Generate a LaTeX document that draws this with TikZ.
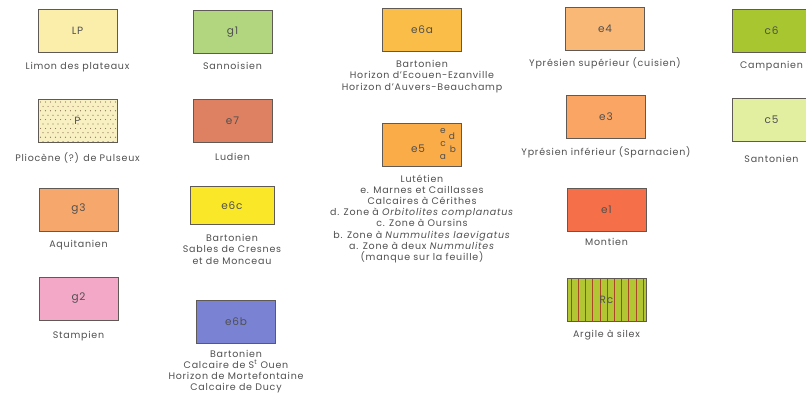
\documentclass[tikz,border=0pt]{standalone}
\usepackage{fontspec}
\setmainfont[LetterSpace=8]{Poppins}
\usetikzlibrary{positioning,calc}

\definecolor{inkgray}{RGB}{80,80,80}
\definecolor{boxgray}{RGB}{95,90,85}
\definecolor{lpcol}{RGB}{250,238,170}
\definecolor{plcol}{RGB}{248,240,195}
\definecolor{pldot}{RGB}{135,115,80}
\definecolor{g3col}{RGB}{246,168,108}
\definecolor{g2col}{RGB}{244,168,200}
\definecolor{g1col}{RGB}{178,214,128}
\definecolor{e7col}{RGB}{222,128,98}
\definecolor{e6ccol}{RGB}{250,232,40}
\definecolor{e6bcol}{RGB}{122,130,212}
\definecolor{e6acol}{RGB}{250,190,72}
\definecolor{e5col}{RGB}{250,172,72}
\definecolor{e4col}{RGB}{250,184,118}
\definecolor{e3col}{RGB}{250,165,100}
\definecolor{e1col}{RGB}{245,112,72}
\definecolor{rccol}{RGB}{178,198,52}
\definecolor{rcline}{RGB}{170,70,40}
\definecolor{c6col}{RGB}{168,198,48}
\definecolor{c5col}{RGB}{226,238,160}

\tikzset{
    swatch/.style={draw=boxgray, line width=0.8pt, minimum width=79pt, minimum height=43pt,
        inner sep=0pt, text=inkgray, font=\fontsize{10.5}{10.5}\selectfont},
    legend/.style={text=inkgray, align=center, inner sep=1pt, font=\fontsize{9.5}{11.5}\selectfont},
    mark letter/.style={text=inkgray, inner sep=0pt, font=\fontsize{9}{9}\selectfont}
}

\begin{document}
\begin{tikzpicture}[x=1pt,y=-1pt]
    \useasboundingbox[fill=white] (0,0) rectangle (806,396);

    % First column
    \node[swatch, fill=lpcol] (lp) at (77.5,30.5) {LP};
    \node[legend, below=9pt of lp] (lp-txt) {Limon des plateaux};

    \node[swatch, fill=plcol, path picture={
        \foreach \j in {0,...,9} {
            \foreach \i in {0,...,15} {
                \fill[pldot] ($(path picture bounding box.north west)+({2.5+5*\i+2.5*mod(\j,2)},{3+4.4*\j})$) circle (0.6pt);
            }
        }}] (pl) at (77.5,120.5) {P};
    \node[legend, below=9pt of pl] (pl-txt) {Pliocène (?) de Pulseux};

    \node[swatch, fill=g3col] (g3) at (78.5,209.5) {g3};
    \node[legend, below=8pt of g3] (g3-txt) {Aquitanien};

    \node[swatch, fill=g2col] (g2) at (78.5,298.5) {g2};
    \node[legend, below=10pt of g2] (g2-txt) {Stampien};

    % Second column
    \node[swatch, fill=g1col] (g1) at (232.5,32) {g1};
    \node[legend, below=7pt of g1] (g1-txt) {Sannoisien};

    \node[swatch, fill=e7col] (e7) at (232.5,121) {e7};
    \node[legend, below=9pt of e7] (e7-txt) {Ludien};

    \node[swatch, fill=e6ccol, minimum width=84pt, minimum height=38pt] (e6c) at (232,205.5) {e6c};
    \node[legend, below=8pt of e6c] (e6c-txt) {Bartonien\\Sables de Cresnes\\et de Monceau};

    \node[swatch, fill=e6bcol] (e6b) at (236,322) {e6b};
    \node[legend, below=5pt of e6b, font=\fontsize{9.5}{11}\selectfont] (e6b-txt) {Bartonien\\Calcaire de S\textsuperscript{t} Ouen\\Horizon de Mortefontaine\\Calcaire de Ducy};

    % Third column
    \node[swatch, fill=e6acol] (e6a) at (422,30) {e6a};
    \node[legend, below=7pt of e6a] (e6a-txt) {Bartonien\\Horizon d'Ecouen-Ezanville\\Horizon d'Auvers-Beauchamp};

    \node[swatch, fill=e5col] (e5) at (422,145) {};
    \node[mark letter, font=\fontsize{10.5}{10.5}\selectfont] (e5-sym) at (418,149) {e5};
    \node[mark letter] (e5-e) at (443,131) {e};
    \node[mark letter] (e5-d) at (452,136) {d};
    \node[mark letter] (e5-c) at (443,144) {c};
    \node[mark letter] (e5-b) at (453,149) {b};
    \node[mark letter] (e5-a) at (443,157) {a};
    \node[legend, below=7pt of e5, font=\fontsize{9.5}{11.1}\selectfont] (e5-txt) {Lutétien\\e. Marnes et Caillasses\\Calcaires à Cérithes\\
        d. Zone à \textit{Orbitolites complanatus}\\c. Zone à Oursins\\
        b. Zone à \textit{Nummulites laevigatus}\\a. Zone à deux \textit{Nummulites}\\(manque sur la feuille)};

    % Fourth column
    \node[swatch, fill=e4col] (e4) at (605,28.5) {e4};
    \node[legend, below=6pt of e4] (e4-txt) {Yprésien supérieur (cuisien)};

    \node[swatch, fill=e3col] (e3) at (606,117) {e3};
    \node[legend, below=7pt of e3] (e3-txt) {Yprésien inférieur (Sparnacien)};

    \node[swatch, fill=e1col] (e1) at (606.5,209.5) {e1};
    \node[legend, below=6pt of e1] (e1-txt) {Montien};

    \node[swatch, fill=rccol, path picture={
        \foreach \i in {0,...,10} {
            \draw[rcline, line width=0.6pt] ($(path picture bounding box.north west)+({4+7.2*\i},0)$) -- ++(0,44);
        }}] (rc) at (606.5,299.5) {Rc};
    \node[legend, below=7pt of rc] (rc-txt) {Argile à silex};

    % Fifth column (cut by the page edge)
    \node[swatch, fill=c6col] (c6) at (771.5,30.5) {c6};
    \node[legend, below=8pt of c6] (c6-txt) {Campanien};

    \node[swatch, fill=c5col] (c5) at (771.5,120) {c5};
    \node[legend, below=12pt of c5] (c5-txt) {Santonien};
\end{tikzpicture}
\end{document}
